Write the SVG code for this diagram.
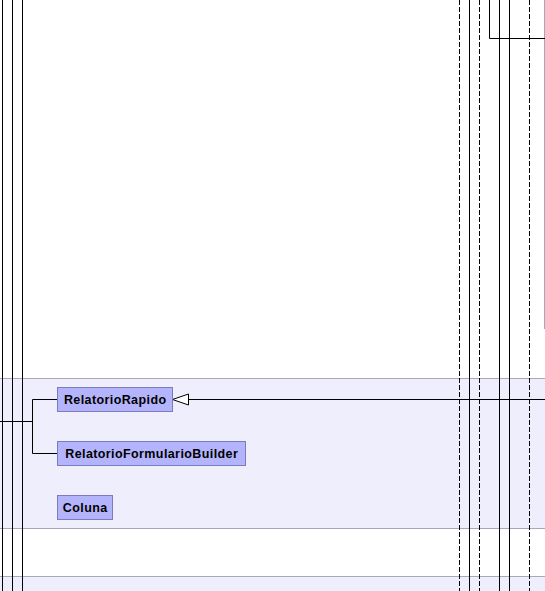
<svg xmlns="http://www.w3.org/2000/svg" width="545" height="591" viewBox="0 0 545 591">
<style>
.band{fill:#EEEEFC;stroke:#A8A8B8;stroke-width:1}
.box{fill:#B4B4FC;stroke:#7C7CBC;stroke-width:1}
.lbl{font-family:"Liberation Sans",Arial,sans-serif;font-weight:bold;font-size:12.5px;letter-spacing:0.4px;fill:#000;text-anchor:middle}
.ln{stroke:#000;stroke-width:1;fill:none}
.dash{stroke:#000;stroke-width:1;fill:none;stroke-dasharray:5 2}
</style>
<rect x="0" y="0" width="545" height="591" fill="#FFFFFF"/>
<g id="bands">
<rect class="band" x="-1" y="378.5" width="547" height="150"/>
<rect class="band" x="-1" y="576.5" width="547" height="20"/>
<line x1="544.5" y1="0" x2="544.5" y2="329" stroke="#A8A8B8" stroke-width="1"/>
</g>
<g id="connectors">
<line class="ln" x1="2.5" y1="0" x2="2.5" y2="591"/>
<line class="ln" x1="12.5" y1="0" x2="12.5" y2="591"/>
<line class="ln" x1="22.5" y1="0" x2="22.5" y2="591"/>
<line class="dash" x1="459.5" y1="0" x2="459.5" y2="591"/>
<line class="ln" x1="469.5" y1="0" x2="469.5" y2="591"/>
<line class="dash" x1="479.5" y1="0" x2="479.5" y2="591"/>
<polyline class="ln" points="489.5,0 489.5,38.5 545,38.5"/>
<line class="ln" x1="499.5" y1="0" x2="499.5" y2="591"/>
<line class="ln" x1="509.5" y1="0" x2="509.5" y2="591"/>
<line class="dash" x1="529.5" y1="0" x2="529.5" y2="591"/>
<line class="ln" x1="0" y1="421.5" x2="32.5" y2="421.5"/>
<polyline class="ln" points="57.5,399.5 32.5,399.5 32.5,453.5 57.5,453.5"/>
<line class="ln" x1="188.5" y1="399.5" x2="545" y2="399.5"/>
<polygon points="172.5,399.5 188.5,394 188.5,405" fill="#FFFFFF" stroke="#000" stroke-width="1"/>
</g>
<g id="RelatorioRapido">
<rect class="box" x="57.5" y="387.5" width="115" height="24"/>
<text class="lbl" x="115.2" y="404.3">RelatorioRapido</text>
</g>
<g id="RelatorioFormularioBuilder">
<rect class="box" x="57.5" y="441.5" width="188" height="24"/>
<text class="lbl" x="151.7" y="458.3">RelatorioFormularioBuilder</text>
</g>
<g id="Coluna">
<rect class="box" x="57.5" y="495.5" width="55" height="24"/>
<text class="lbl" x="85.2" y="512.3">Coluna</text>
</g>
</svg>
